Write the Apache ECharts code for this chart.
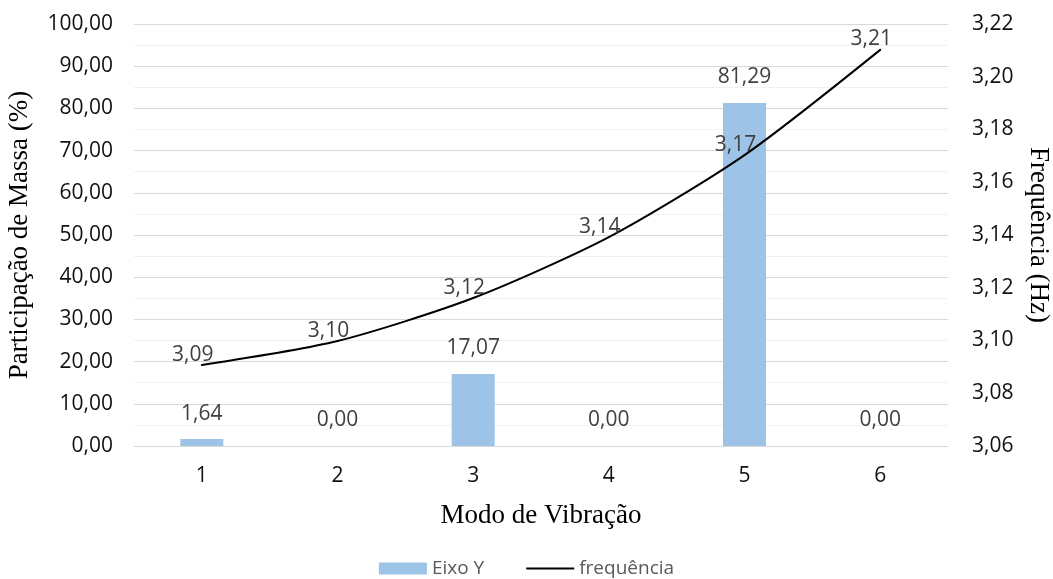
<!DOCTYPE html>
<html>
<head>
<meta charset="utf-8">
<script src="https://cdn.jsdelivr.net/npm/echarts@6/dist/echarts.min.js"></script>
<style>
  html, body { margin: 0; padding: 0; background: #fff; }
  #chart { width: 1053px; height: 579px; }
</style>
</head>
<body>
<div id="chart"></div>
<script>
// Vibration modes and their results
const modes = ['1', '2', '3', '4', '5', '6'];
const massParticipation = [1.64, 0.00, 17.07, 0.00, 81.29, 0.00];   // Eixo Y (%)
const frequency = [3.0907, 3.0998, 3.1161, 3.1392, 3.1703, 3.2102]; // Hz

const fmt = v => Number(v).toFixed(2).replace('.', ',');
const sans = '"Open Sans", Lato, sans-serif';
const serif = '"Liberation Serif", "DejaVu Serif", serif';

const chart = echarts.init(document.getElementById('chart'), null, { renderer: 'canvas' });
chart.setOption({
  animation: false,
  backgroundColor: '#ffffff',
  grid: {
    left: 134, right: 105, top: 24, bottom: 133,
    containLabel: false,
    outerBoundsMode: 'none'
  },
  legend: {
    top: 554,
    left: 'center',
    itemGap: 42,
    itemWidth: 48,
    itemHeight: 12,
    textStyle: { fontFamily: sans, fontSize: 19, color: '#595959' },
    data: [
      { name: 'Eixo Y', icon: 'rect' },
      { name: 'frequência', icon: 'path://M0 0H48V2H0Z', itemStyle: { color: '#000', opacity: 1 } }
    ]
  },
  xAxis: {
    type: 'category',
    data: modes,
    name: 'Modo de Vibração',
    nameLocation: 'middle',
    nameGap: 56,
    nameTextStyle: { fontFamily: serif, fontSize: 27, color: '#000' },
    axisLine: { show: true, lineStyle: { color: '#d9d9d9', width: 1 } },
    axisTick: { show: false },
    axisLabel: { fontFamily: sans, fontSize: 21, color: '#111', margin: 20 }
  },
  yAxis: [
    {
      type: 'value',
      min: 0,
      max: 100,
      interval: 10,
      name: 'Participação de Massa (%)',
      nameLocation: 'middle',
      nameGap: 101,
      nameRotate: 90,
      nameTextStyle: { fontFamily: serif, fontSize: 27, color: '#000' },
      axisLine: { show: false },
      axisTick: { show: false },
      axisLabel: { fontFamily: sans, fontSize: 21, color: '#111', margin: 21, formatter: fmt },
      splitLine: { show: true, lineStyle: { color: '#d9d9d9', width: 1 } },
      minorTick: { show: false, splitNumber: 2 },
      minorSplitLine: { show: true, lineStyle: { color: '#f0f0f0', width: 1 } }
    },
    {
      type: 'value',
      min: 3.06,
      max: 3.22,
      interval: 0.02,
      name: 'Frequência (Hz)',
      nameLocation: 'middle',
      nameGap: 72,
      nameRotate: -90,
      nameTextStyle: { fontFamily: serif, fontSize: 27, color: '#000' },
      axisLine: { show: false },
      axisTick: { show: false },
      axisLabel: { fontFamily: sans, fontSize: 21, color: '#111', margin: 24, formatter: fmt },
      splitLine: { show: false }
    }
  ],
  series: [
    {
      name: 'Eixo Y',
      type: 'bar',
      yAxisIndex: 0,
      data: massParticipation,
      barWidth: 43,
      itemStyle: { color: '#9dc3e6' },
      label: {
        show: true,
        position: 'top',
        distance: 15,
        fontFamily: sans,
        fontSize: 21,
        color: '#404040',
        formatter: p => fmt(p.value)
      },
      z: 2
    },
    {
      name: 'frequência',
      type: 'line',
      yAxisIndex: 1,
      data: frequency,
      smooth: 0.25,
      symbol: 'circle',
      symbolSize: 2,
      showSymbol: true,
      lineStyle: { color: '#000000', width: 2 },
      itemStyle: { color: '#000000' },
      label: {
        show: true,
        position: 'top',
        distance: 5,
        fontFamily: sans,
        fontSize: 21,
        color: '#404040',
        formatter: p => fmt(p.value)
      },
      labelLayout: { hideOverlap: false, dx: -9, dy: 6 },
      z: 3
    }
  ]
});
</script>
</body>
</html>
